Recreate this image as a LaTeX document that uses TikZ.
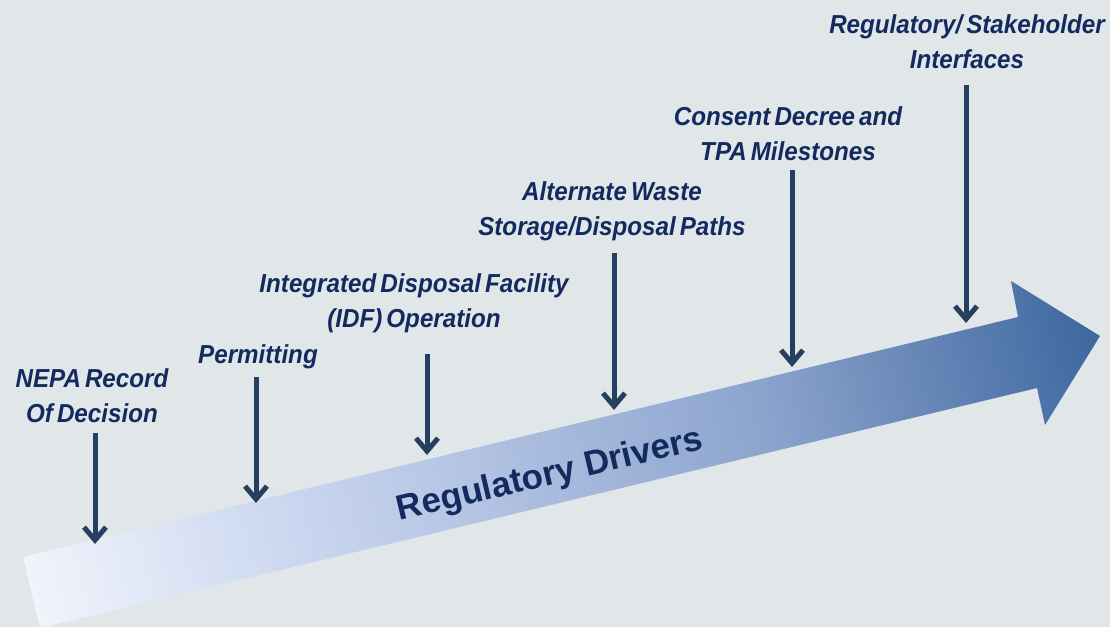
\documentclass[tikz,border=0pt]{standalone}
\usepackage{fontspec}
\setmainfont{Liberation Sans}
\newfontfamily\labelfont{Liberation Sans}[FakeStretch=0.93,WordSpace=0.6]
\usetikzlibrary{arrows.meta,calc}

\definecolor{bgcol}{HTML}{E1E6E9}
\definecolor{navytext}{HTML}{132A5E}
\definecolor{linecol}{HTML}{243F60}
\definecolor{fadeA}{HTML}{C6D3EE}
\definecolor{fadeB}{HTML}{8CA4CD}
\definecolor{fadeC}{HTML}{335F99}
\pgfdeclarehorizontalshading{driverfade}{100bp}{color(0bp)=(white); color(15bp)=(white); color(37bp)=(fadeA); color(61bp)=(fadeB); color(82bp)=(fadeC); color(100bp)=(fadeC)}

\tikzset{
    lbl/.style={font=\labelfont\bfseries\itshape\fontsize{26}{35}\selectfont, text=navytext, align=center, anchor=north, inner sep=0pt},
    driver/.style={draw=linecol, line width=5pt, -{Straight Barb[length=13pt,width=22pt]}},
}

\begin{document}
\begin{tikzpicture}[x=1pt, y=-1pt]
        \fill[bgcol] (0,0) rectangle (1110,627);
        \useasboundingbox (0,0) rectangle (1110,627);

        % the big arrow
        \shade[shading=driverfade, shading angle=13.6] (23,557) -- (1018,317) -- (1011,281) -- (1100,336)
            -- (1045,425) -- (1037,388) -- (40,628) -- cycle;
        \node[font=\bfseries\fontsize{35}{40}\selectfont, text=navytext, rotate=13.3] (title) at (550,476) {Regulatory Drivers};

        % labels
        \node[lbl] (nepa) at (92,368) {NEPA Record\\Of Decision};
        \node[lbl] (permit) at (258,344) {Permitting};
        \node[lbl] (idf) at (414,273) {Integrated Disposal Facility\\(IDF) Operation};
        \node[lbl] (altw) at (612,181) {Alternate Waste\\Storage/Disposal Paths};
        \node[lbl] (consent) at (788,106) {Consent Decree and\\TPA Milestones};
        \node[lbl] (regif) at (967,14) {Regulatory/ Stakeholder\\Interfaces};

        % where the arrows hit the big arrow
        \coordinate (nepa end) at (95,544);
        \coordinate (permit end) at (256,503);
        \coordinate (idf end) at (427,455);
        \coordinate (altw end) at (614,410);
        \coordinate (consent end) at (792,367);
        \coordinate (regif end) at (966,323);

        \draw[driver, shorten <=10pt] (nepa.south -| nepa end) -- (nepa end);
        \draw[driver, shorten <=8pt] (permit.south -| permit end) -- (permit end);
        \draw[driver, shorten <=21pt] (idf.south -| idf end) -- (idf end);
        \draw[driver, shorten <=12pt] (altw.south -| altw end) -- (altw end);
        \draw[driver, shorten <=10pt] (consent.south -| consent end) -- (consent end);
        \draw[driver, shorten <=17pt] (regif.south -| regif end) -- (regif end);
\end{tikzpicture}
\end{document}
